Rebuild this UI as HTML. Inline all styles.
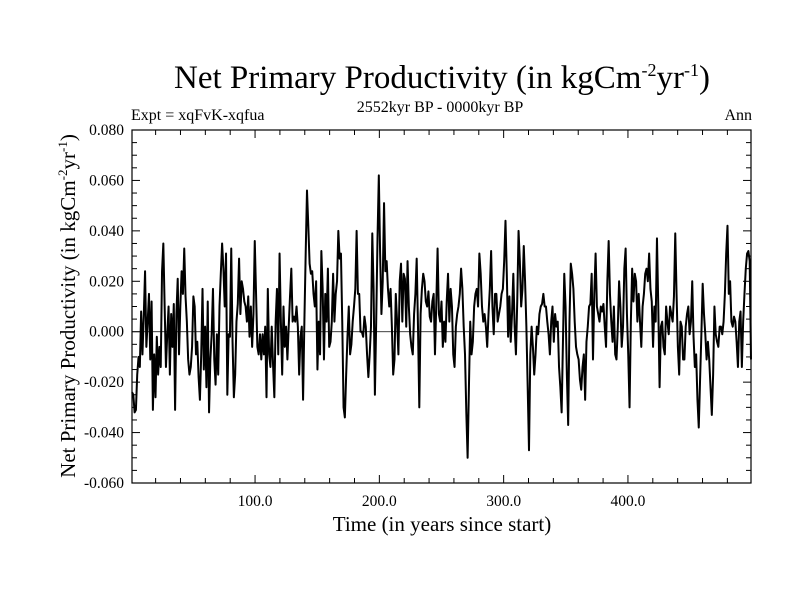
<!DOCTYPE html>
<html><head><meta charset="utf-8"><style>
html,body{margin:0;padding:0;background:#fff;}
svg{display:block;font-family:"Liberation Serif",serif;}
</style></head><body>
<svg id="chart" width="800" height="600" viewBox="0 0 800 600">
<text x="442" y="88" text-anchor="middle" font-size="33">Net Primary Productivity (in kgCm<tspan dy="-12" font-size="18">-2</tspan><tspan dy="12">yr</tspan><tspan dy="-12" font-size="18">-1</tspan><tspan dy="12">)</tspan></text>
<text x="440" y="112" text-anchor="middle" font-size="16">2552kyr BP - 0000kyr BP</text>
<text x="131" y="120" font-size="16">Expt = xqFvK-xqfua</text>
<text x="752" y="120" text-anchor="end" font-size="16">Ann</text>
<text transform="translate(75,306) rotate(-90)" text-anchor="middle" font-size="21">Net Primary Productivity (in kgCm<tspan dy="-8" font-size="13">-2</tspan><tspan dy="8">yr</tspan><tspan dy="-8" font-size="13">-1</tspan><tspan dy="8">)</tspan></text>
<text x="442" y="531" text-anchor="middle" font-size="21">Time (in years since start)</text>
<g id="axes"></g>
<g id="series"></g>
</svg>
<script>
const yTickValues=[0.08,0.06,0.04,0.02,0,-0.02,-0.04,-0.06];
const yTickLabels=["0.080","0.060","0.040","0.020","0.000","-0.020","-0.040","-0.060"];
const xTickValues=[100,200,300,400];
const xTickLabels=["100.0","200.0","300.0","400.0"];
const nppSeg1=[-24,-25,-32,-31,-17,-10,-14,8,-9,6,24,-6,4,15,-11,12,-31,-9,-26,-2,-17,-6,-14,24,35,10,-14,-1,10,-17,7,-6,11,-31,7,21,-9,10,24,15,33,14,4,-11,-17,-14,-6,14,10,-9,-4,-18,-27,-9,17,-15,2,-22,12,-32,-11,-1,17,-11,-21,-1,-17,10,23,35,25,10,31,-25,-1,-2,33,-4,-26,-17,4,11,29,7,20,17,12,10,4,14,-2,10,-6,7,36,15,-6,-9,-1,-11,-1,-9,2,-26,17,-9,-14,2,-13,-26,4,17,-9,31,4,-17,10,-6,2,-11,2,14,25,4,6,4,10,2,-17,-2,2];
const nppSeg2=[-27,4,31,56,42,27,23,24,15,10,20,-15,4,-9,32,17,-11,15,4,25,-6,-4,4,23,4,15,20,40,29,31,4,-30,-34,-17,-2,10,-9,-5,4,10,17,40,15,15,0,0,-2,6,2,-9,-18,-9,2,39,17,-25,4,37,62,31,7,20,51,24,28,17,10,17,2,-17,-11,15,4,-9,20,27,4,23,21,2,28,10,-1,-6,-9,7,15,29,2,-30,7,17,23,20,12,10,16,6,4,12,15,-9,11];
const nppSeg3=[33,7,4,12,-6,4,-4,12,23,4,17,10,-9,-14,2,7,10,15,25,17,2,-9,-32,-50,-22,4,-9,-4,10,15,17,10,31,23,10,4,7,2,-6,7,17,32,10,-1,15,15,4,7,10,15,17,28,44,23,-2,14,-4,7,23,2,-9,12,40,28,10,17,34,20,2,-22,-47,-9,2,-6,-17,-9,2,-1,7,10,11,15,10,10,4,-1,-9,4,10,-4,7,2,4,-14,-22,-32,-4,23,10,-17,-37,4,27,23,17,4,-6];
const nppSeg4=[-9,-11,-19,-23,-14,-9,-27,-4,2,10,11,23,-11,15,31,10,7,4,10,8,11,2,-6,20,36,15,4,-4,10,-9,-11,2,20,10,-6,2,25,33,7,-9,-30,4,25,12,23,20,4,15,4,-6,10,15,23,25,20,31,17,12,-6,10,4,37,10,-22,2,4,-6,-9,10,4,-1,10,7,4,14,39,15,-6,-17,4,2,-11,-11,2,7,10,-1,4,20,-2,-14,-9,-27,-38,-19,-1,19,7,-1,-11,-4,-11,-22,-33,-17,10,-1,-4,-6,2,2,-1,4,15,31,42,15,20,4,2,6,4,-4,-14,4,8,-14,4,15,25,31,32,28,-11];
const nppMilli=nppSeg1.concat(nppSeg2,nppSeg3,nppSeg4);
const yearStart=1, yearEnd=499;

const L=132,R=751,T=130,B=483;
const xs=v=>L+(v-yearStart)/(yearEnd-yearStart)*(R-L);
const ys=v=>T+(0.08-v)/(0.14)*(B-T);
const NS="http://www.w3.org/2000/svg";
const axes=document.getElementById('axes');
function mk(tag,attrs,parent){const e=document.createElementNS(NS,tag);for(const k in attrs)e.setAttribute(k,attrs[k]);parent.appendChild(e);return e;}

const frame=mk('rect',{x:L,y:T,width:R-L,height:B-T,fill:'none',stroke:'#000','stroke-width':1.2},axes);


const zl=mk('line',{x1:L,x2:R,y1:ys(0),y2:ys(0),stroke:'#000','stroke-width':0.8},axes);



for(let v=-0.06;v<=0.0801;v+=0.005){
  const y=ys(v);const major=Math.abs(Math.round(v*1000)%20)<0.5;const len=major?8:5;
  const t1=mk('line',{x1:L,x2:L+len,y1:y,y2:y,stroke:'#000','stroke-width':1},axes);
  
  
  const t2=mk('line',{x1:R,x2:R-len,y1:y,y2:y,stroke:'#000','stroke-width':1},axes);
  
  
}
yTickValues.forEach((v,i)=>{
  const t=mk('text',{x:L-8,y:ys(v)+5,'text-anchor':'end','font-size':15.5},axes);
  t.textContent=yTickLabels[i];
  
  
});
for(let v=20;v<yearEnd;v+=20){
  const x=xs(v);const major=v%100===0;const len=major?8:5;
  const t1=mk('line',{x1:x,x2:x,y1:B,y2:B-len,stroke:'#000','stroke-width':1},axes);
  
  
  const t2=mk('line',{x1:x,x2:x,y1:T,y2:T+len,stroke:'#000','stroke-width':1},axes);
  
  
}
xTickValues.forEach((v,i)=>{
  const t=mk('text',{x:xs(v),y:506,'text-anchor':'middle','font-size':15.5},axes);
  t.textContent=xTickLabels[i];
  
  
});

const n=nppMilli.length;
const years=nppMilli.map((_,i)=>yearStart+i*(yearEnd-yearStart)/(n-1));
let d='';
nppMilli.forEach((m,i)=>{d+=(i?'L':'M')+xs(years[i]).toFixed(2)+' '+ys(m/1000).toFixed(2);});
const line=mk('path',{d:d,fill:'none',stroke:'#000','stroke-width':2,'stroke-linejoin':'round'},document.getElementById('series'));


</script>
</body></html>
